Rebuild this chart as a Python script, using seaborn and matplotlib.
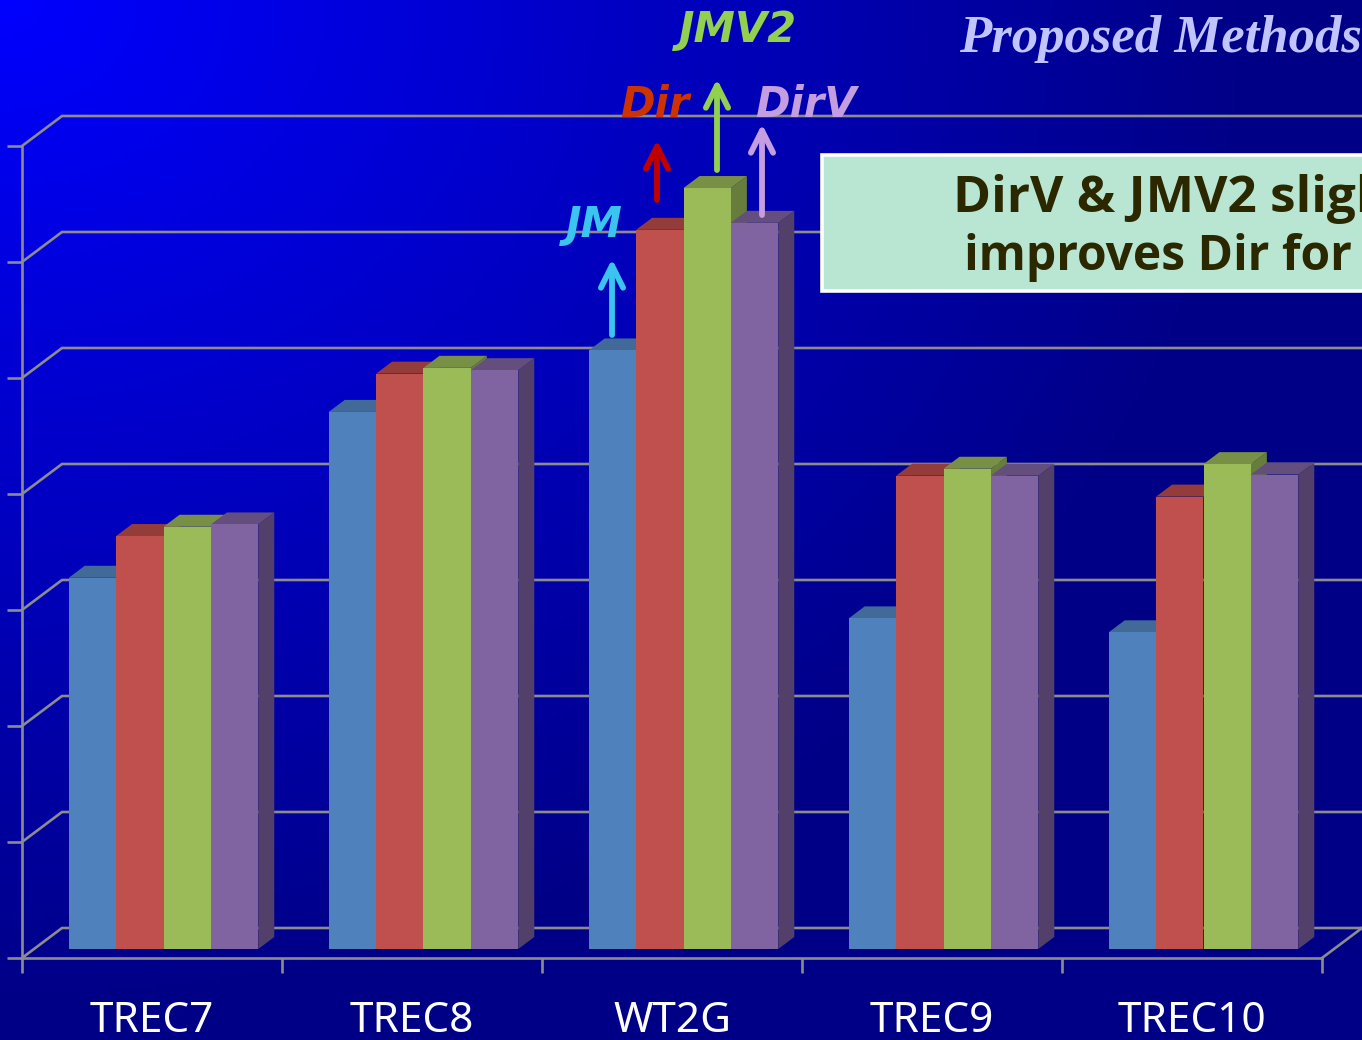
import numpy as np
import pandas as pd
import matplotlib
matplotlib.use("Agg")
import matplotlib.pyplot as plt
import seaborn as sns
from matplotlib.patches import Polygon, Rectangle

# values (one gridline = 0.05)
datasets = ["TREC7", "TREC8", "WT2G", "TREC9", "TREC10"]
methods = ["JM", "Dir", "JMV2", "DirV"]
jm = [0.160, 0.2315, 0.258, 0.1425, 0.1365]
dir_ = [0.178, 0.248, 0.310, 0.204, 0.195]
jmv2 = [0.182, 0.2505, 0.328, 0.207, 0.209]
dirv = [0.183, 0.2495, 0.313, 0.204, 0.2045]
y_ticks = [0, 0.05, 0.10, 0.15, 0.20, 0.25, 0.30, 0.35]

face_colors = ["#4f81bd", "#c0504d", "#9bbb59", "#8064a2"]
top_colors = ["#426a99", "#943c3a", "#789045", "#634e7d"]
side_colors = ["#3a5a80", "#7d3230", "#677d3b", "#52406b"]
label_colors = ["#3cc4f0", "#cc3300", "#92d050", "#c49ee0"]
GRID = "#8c8c8c"

W, H = 1362, 1040
PX_X = 1 / 260          # category units per pixel
PX_Y = 0.05 / 116       # value units per pixel


def fig_xy(x, y):
    return x / W, 1 - y / H


df = pd.DataFrame({"dataset": datasets, "JM": jm, "Dir": dir_, "JMV2": jmv2, "DirV": dirv})
df_long = df.melt(id_vars="dataset", var_name="method", value_name="value")

fig = plt.figure(figsize=(W / 100, H / 100), dpi=100)

# background shading, bright in the top left corner
bg = fig.add_axes([0, 0, 1, 1])
yy, xx = np.mgrid[0:H:4, 0:W:4]
t = np.clip(np.hypot(xx, yy * 1.25) / 1250, 0, 1)
img = np.zeros(xx.shape + (3,))
img[..., 2] = (255 - t * 120) / 255
bg.imshow(img, aspect="auto", extent=(0, W, H, 0))
bg.axis("off")

ax = fig.add_axes([22 / W, 1 - 958 / H, 1300 / W, 812 / H])
ax.patch.set_alpha(0)

sns.barplot(data=df_long, x="dataset", y="value", hue="method", hue_order=methods,
            palette=face_colors, saturation=1, width=0.729, gap=0, linewidth=0,
            legend=False, ax=ax)
ax.set_xlim(-0.5, 4.5)
ax.set_ylim(0, 0.35)
ax.set_xlabel("")
ax.set_ylabel("")

# bars sit a little behind the front of the floor, then get a side and a top
off_x, off_y = 11.5 * PX_X, 9 * PX_Y
dep_x, dep_y = 16 * PX_X, 12 * PX_Y
for h, bars in enumerate(ax.containers):
    for g, p in enumerate(bars):
        p.set_x(p.get_x() + off_x)
        p.set_y(off_y)
        p.set_clip_on(False)
        p.set_zorder(5 + g + h * 0.1)
        x0, x1 = p.get_x(), p.get_x() + p.get_width()
        y0, y1 = off_y, off_y + p.get_height()
        side = Polygon([(x1, y0), (x1 + dep_x, y0 + dep_y), (x1 + dep_x, y1 + dep_y), (x1, y1)],
                       facecolor=side_colors[h], linewidth=0, clip_on=False,
                       zorder=p.get_zorder() - 0.01)
        top = Polygon([(x0, y1), (x0 + dep_x, y1 + dep_y), (x1 + dep_x, y1 + dep_y), (x1, y1)],
                      facecolor=top_colors[h], linewidth=0, clip_on=False,
                      zorder=p.get_zorder() - 0.01)
        ax.add_patch(side)
        ax.add_patch(top)

# back wall gridlines and the left wall diagonals
wall_x, wall_y = 40 * PX_X, 30 * PX_Y
for v in y_ticks:
    ax.plot([-0.5, -0.5 + wall_x, 4.5 + wall_x], [v, v + wall_y, v + wall_y],
            color=GRID, lw=1.9, clip_on=False, zorder=1, solid_joinstyle="miter")
ax.plot([4.5, 4.5 + wall_x], [0, wall_y], color=GRID, lw=1.9, clip_on=False, zorder=1)

sns.despine(ax=ax, top=True, right=True)
for s in ["left", "bottom"]:
    ax.spines[s].set_color(GRID)
    ax.spines[s].set_linewidth(1.9)

ax.set_yticks(y_ticks)
ax.set_yticklabels([])
ax.set_xticks(np.arange(-0.5, 5, 1))
ax.set_xticklabels([])
ax.set_xticks(range(5), minor=True)
ax.set_xticklabels(datasets, minor=True, fontsize=30.5, color="white", family="Noto Sans")
ax.tick_params(axis="both", which="major", color=GRID, width=1.9, length=10.5)
ax.tick_params(axis="x", which="minor", length=0, pad=30)

# arrows with the method names
arrow_x = [612, 657, 717, 762]
arrow_from = [335, 200, 170, 215]
arrow_to = [259, 140, 79, 124]
name_x = [566, 620, 679, 755]
name_base = [237, 117, 42, 117]
for i, m in enumerate(methods):
    col = "#c00000" if m == "Dir" else label_colors[i]
    ax.annotate("", xy=fig_xy(arrow_x[i], arrow_to[i]), xytext=fig_xy(arrow_x[i], arrow_from[i]),
                xycoords="figure fraction", textcoords="figure fraction", zorder=20,
                arrowprops=dict(arrowstyle="->,head_length=0.8,head_width=0.4", color=col,
                                lw=4.2, shrinkA=0, shrinkB=0, mutation_scale=20))
    fx, fy = fig_xy(name_x[i], name_base[i])
    fig.text(fx, fy, m, color=label_colors[i], fontsize=30, fontweight="bold",
             fontstyle="italic", family="DejaVu Sans", va="baseline", ha="left", zorder=20)

# title and the note box, both run up to the right edge in the reference
fx, fy = fig_xy(959, 52)
fig.text(fx, fy, "Proposed Methods", color="#c0c4ff", fontsize=38, fontweight="bold",
         fontstyle="italic", family="Liberation Serif", va="baseline", ha="left")

bx, by = fig_xy(822, 291)
box = Rectangle((bx, by), 560 / W, 136 / H, transform=fig.transFigure, facecolor="#b8e6d3",
                edgecolor="white", linewidth=2.6, zorder=30, clip_on=True)
fig.add_artist(box)
for txt, tx, ty, fs in [("DirV & JMV2 sligh", 953, 212, 37), ("improves Dir for", 964, 270, 34.6)]:
    fx, fy = fig_xy(tx, ty)
    fig.text(fx, fy, txt, color="#2b2800", fontsize=fs, fontweight="bold",
             family="Open Sans", va="baseline", ha="left", zorder=31)

fig.savefig("out.png", dpi=100)
